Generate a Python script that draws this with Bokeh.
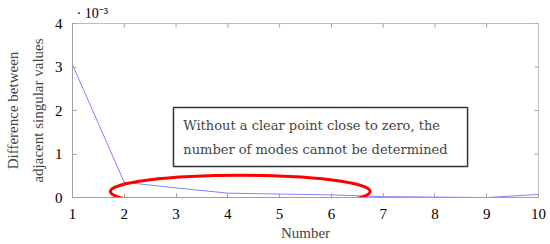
import math
from bokeh.plotting import figure
from bokeh.models import Label, Range1d, FixedTicker, BoxAnnotation, ColumnDataSource
from bokeh.embed import file_html
from bokeh.resources import INLINE

# data (values in units of 1e-3)
numbers = [1, 2, 3, 4, 5, 6, 7, 8, 9, 10]
diff_e3 = [3.05, 0.35, 0.22, 0.10, 0.08, 0.06, 0.02, 0.01, 0.0, 0.07]
x_ticks = [1, 2, 3, 4, 5, 6, 7, 8, 9, 10]
y_ticks = [0, 1, 2, 3, 4]

FONT = "Liberation Serif"
BOXFONT = "DejaVu Serif"
AXIS_GRAY = "#a0a0a0"

xr = Range1d(1, 10)
yr = Range1d(0, 4)
p = figure(width=550, height=244, output_backend="svg", toolbar_location=None,
           x_range=xr, y_range=yr,
           min_border_left=72, min_border_right=12, min_border_top=0, min_border_bottom=47)
p.grid.visible = False
p.outline_line_color = "#bfbfbf"
p.background_fill_color = "white"
p.border_fill_color = "white"

# exponent as a left-aligned title
p.title.text = "· 10⁻³"
p.title.align = "left"
p.title.offset = 4
p.title.standoff = 6
p.title.text_font = FONT
p.title.text_font_size = "14px"
p.title.text_font_style = "normal"
p.title.text_color = "black"

for ax in (p.xaxis[0], p.yaxis[0]):
    ax.axis_line_color = AXIS_GRAY
    ax.major_tick_line_color = AXIS_GRAY
    ax.major_tick_in = 4
    ax.major_tick_out = 0
    ax.minor_tick_line_color = None
    ax.major_label_text_font = FONT
    ax.major_label_text_font_size = "15px"
    ax.major_label_text_color = "black"
    ax.axis_label_text_font = FONT
    ax.axis_label_text_font_style = "normal"
    ax.axis_label_text_font_size = "15px"

p.xaxis.ticker = FixedTicker(ticks=x_ticks)
p.yaxis.ticker = FixedTicker(ticks=y_ticks)
p.xaxis.major_label_standoff = 11
p.yaxis.major_label_standoff = 10
p.xaxis.axis_label = "Number"
p.xaxis.axis_label_standoff = 3
p.yaxis.axis_label = "Difference between\nadjacent singular values"
p.yaxis.axis_label_text_line_height = 1.55
p.yaxis.axis_label_standoff = 6

# inward ticks on top and right edges of the frame
p.ray(x=x_ticks, y=[yr.end] * len(x_ticks), length=4, length_units="screen",
      angle=-math.pi / 2, line_color=AXIS_GRAY, line_width=1)
p.ray(x=[xr.end] * len(y_ticks), y=y_ticks, length=4, length_units="screen",
      angle=math.pi, line_color=AXIS_GRAY, line_width=1)

src = ColumnDataSource(dict(x=numbers, y=diff_e3))
p.line("x", "y", source=src, line_color="#8080ff", line_width=1)

# annotation box
p.add_layout(BoxAnnotation(left=2.95, right=8.63, bottom=0.71, top=2.07,
                           fill_color="white", fill_alpha=1.0,
                           line_color="#333333", line_alpha=1.0, line_width=1.5))
p.add_layout(Label(x=3.14, y=1.655, text="Without a clear point close to zero, the",
                   text_font=BOXFONT, text_font_size="13px", text_baseline="middle"))
p.add_layout(Label(x=3.14, y=1.10, text="number of modes cannot be determined",
                   text_font=BOXFONT, text_font_size="13px", text_baseline="middle"))

# red ellipse
p.ellipse(x=[4.24], y=[0.14], width=[5.02], height=[0.74],
          fill_color=None, line_color="red", line_width=3)

open("out.html", "w").write(file_html(p, INLINE))
